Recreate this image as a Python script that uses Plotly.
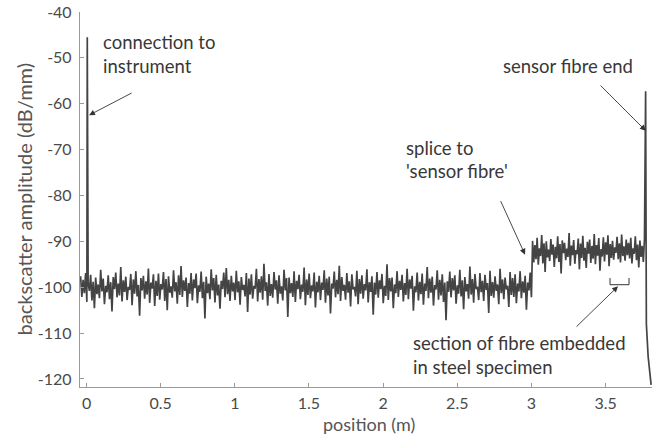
import numpy as np
import plotly.graph_objects as go

# ---------------- data ----------------
# position extent of the two fibre sections (m)
seg1_range = [-0.04, 3.0]     # lead-in fibre
seg2_range = [3.0, 3.77]      # 'sensor fibre'

# backscatter amplitude samples (dB/mm), lead-in fibre
seg1_vals = [
    -97.6, -102.1, -98.4, -101.3, -96.9, -103.2, -99.1, -100.8, -97.3, -102.9, -98.8, -104.6, -97.9, -101.5, -99.4, -102.4, -96.2, -100.9, -98.1, -103.7,
    -99.7, -101.1, -97.4, -102.6, -98.9, -105.3, -97.8, -100.4, -96.8, -102.2, -99.2, -101.8, -95.6, -103.1, -98.5, -101.0, -97.7, -102.8, -99.9, -100.6,
    -97.1, -103.9, -98.3, -101.4, -96.5, -102.0, -99.5, -106.2, -98.0, -100.7, -97.5, -102.5, -98.7, -101.6, -95.9, -103.4, -99.0, -100.3, -97.2, -104.1,
    -98.6, -101.9, -97.0, -102.7, -99.3, -100.5, -96.7, -103.0, -98.2, -105.0, -97.6, -101.2, -99.8, -102.3, -96.3, -100.9, -98.9, -103.6, -97.4, -101.7,
    -95.4, -102.1, -98.5, -100.8, -97.9, -104.3, -99.1, -101.4, -96.9, -102.9, -98.3, -100.2, -97.0, -103.5, -99.6, -101.0, -96.6, -102.4, -98.8, -106.8,
    -97.7, -101.3, -99.2, -102.6, -96.1, -100.7, -98.0, -103.3, -97.3, -101.8, -99.4, -104.7, -98.6, -100.4, -96.8, -102.2, -95.8, -101.5, -98.4, -103.0,
    -97.5, -100.9, -99.0, -102.8, -96.4, -101.1, -98.7, -103.8, -97.8, -100.6, -99.5, -102.0, -96.9, -105.4, -98.1, -101.6, -97.2, -102.5, -99.7, -100.3,
    -96.0, -103.1, -98.2, -101.2, -97.6, -102.7, -94.9, -100.8, -98.9, -104.0, -97.1, -101.9, -99.3, -102.3, -96.7, -100.5, -98.5, -103.6, -97.4, -101.4,
    -99.8, -102.9, -96.2, -100.7, -98.0, -106.5, -97.9, -101.3, -99.1, -102.1, -96.5, -103.2, -98.6, -100.4, -97.3, -102.6, -99.4, -101.0, -95.7, -103.9,
    -98.3, -101.7, -97.0, -102.4, -99.6, -100.9, -96.8, -104.4, -98.8, -101.1, -97.5, -102.8, -99.0, -100.6, -96.3, -103.4, -98.1, -101.8, -97.7, -105.7,
    -99.2, -100.3, -96.6, -102.2, -98.4, -101.5, -95.3, -103.0, -97.8, -100.8, -99.5, -102.7, -96.9, -101.2, -98.7, -104.2, -97.2, -100.5, -99.9, -102.0,
    -96.4, -103.7, -98.2, -101.4, -97.4, -102.5, -99.3, -100.7, -96.1, -103.3, -98.9, -101.0, -97.6, -106.0, -99.0, -101.6, -96.7, -102.3, -98.5, -100.4,
    -97.1, -103.5, -99.7, -101.9, -95.0, -102.8, -98.0, -100.9, -97.9, -104.6, -99.4, -101.3, -96.5, -102.1, -98.6, -100.6, -97.3, -103.1, -99.1, -101.7,
    -96.0, -102.6, -98.3, -100.3, -97.5, -105.1, -99.8, -101.1, -96.8, -102.9, -98.8, -101.5, -97.0, -103.8, -99.2, -100.8, -95.6, -102.4, -98.1, -101.2,
    -97.7, -104.0, -99.5, -100.5, -96.3, -102.7, -98.4, -101.8, -97.2, -103.2, -99.0, -107.2, -98.7, -101.0, -96.6, -102.2, -98.0, -100.7, -97.4, -103.6,
    -99.6, -101.4, -96.2, -102.0, -98.5, -104.8, -97.8, -100.9, -99.3, -102.5, -95.5, -101.6, -98.2, -103.4, -97.1, -100.4, -99.9, -102.8, -96.9, -101.1,
    -98.6, -103.0, -97.3, -100.6, -99.1, -105.6, -96.4, -101.9, -98.9, -102.3, -97.6, -100.8, -99.4, -103.7, -96.0, -101.3, -98.3, -102.6, -97.9, -100.5,
    -99.7, -104.3, -96.7, -101.7, -98.0, -102.1, -97.2, -103.5, -99.2, -100.9, -96.5, -102.4, -98.7, -101.2, -97.5, -104.9, -99.0, -100.7, -96.8, -102.2,
]

# backscatter amplitude samples (dB/mm), sensor fibre
seg2_vals = [
    -89.9, -94.6, -90.8, -93.9, -89.2, -95.1, -91.5, -93.2, -88.6, -94.8, -90.4, -96.7, -90.0, -93.5, -91.8, -94.3, -89.5, -92.9, -90.7, -95.6,
    -91.2, -93.7, -88.9, -94.5, -90.6, -97.0, -89.8, -92.6, -90.3, -94.1, -91.6, -93.4, -88.2, -95.3, -90.9, -93.0, -89.7, -94.9, -91.9, -92.8,
    -89.4, -96.1, -90.5, -93.6, -88.8, -94.2, -91.4, -95.8, -90.1, -92.7, -89.6, -94.7, -91.0, -93.8, -88.4, -95.0, -90.8, -93.1, -89.3, -96.4,
    -91.7, -93.3, -89.1, -94.4, -90.2, -92.9, -88.7, -95.4, -90.6, -93.6, -89.9, -94.0, -91.3, -92.5, -89.0, -93.9, -90.4, -94.6, -88.5, -93.2,
    -91.1, -94.2, -89.6, -93.0, -90.3, -93.7, -89.2, -94.8, -91.5, -92.7, -88.9, -94.1, -90.7, -95.7, -89.8, -93.4, -91.0, -94.5, -89.4, -93.8,
]

# reflection peaks: connection to instrument, sensor fibre end
peak_pos = [0.005, 3.77]
peak_vals = [-45.5, -57.3]

# signal fall-off after the fibre end
tail_pos = [3.775, 3.787, 3.807]
tail_vals = [-108.0, -115.1, -121.3]

x_tickvals = [0, 0.5, 1, 1.5, 2, 2.5, 3, 3.5]
x_ticktext = ["0", "0.5", "1", "1.5", "2", "2.5", "3", "3.5"]
y_tickvals = [-40, -50, -60, -70, -80, -90, -100, -110, -120]
y_ticktext = ["-40", "-50", "-60", "-70", "-80", "-90", "-100", "-110", "-120"]

# ---------------- build trace ----------------
x1 = np.linspace(seg1_range[0], seg1_range[1], len(seg1_vals))
x2 = np.linspace(seg2_range[0], seg2_range[1], len(seg2_vals) + 1)[1:-1]
v2 = np.array(seg2_vals[: len(x2)])
xs = np.concatenate([x1, x2, peak_pos, tail_pos])
ys = np.concatenate([seg1_vals, v2, peak_vals, tail_vals])
order = np.argsort(xs, kind="stable")
xs, ys = xs[order], ys[order]

TRACE = "#444444"
AXIS = "#9a9a9a"
TEXT = "#383838"
FONT = "Lato"

fig = go.Figure()
fig.add_trace(go.Scatter(x=xs, y=ys, mode="lines",
                         line=dict(color=TRACE, width=1.7, simplify=False),
                         hoverinfo="skip", showlegend=False))

fig.update_layout(
    width=654, height=436,
    margin=dict(l=80, r=2, t=12, b=49),
    paper_bgcolor="white", plot_bgcolor="white",
    font=dict(family=FONT, size=16, color="#4a4a4a"),
    showlegend=False,
)
fig.update_xaxes(range=[-0.044, 3.813], showgrid=False, zeroline=False,
                 showline=True, linecolor=AXIS, linewidth=1.3,
                 ticks="inside", ticklen=4, tickcolor=AXIS, tickwidth=1,
                 tickvals=x_tickvals, ticktext=x_ticktext,
                 ticklabelstandoff=2)
fig.update_yaxes(range=[-121.75, -40], showgrid=False, zeroline=False,
                 showline=True, linecolor=AXIS, linewidth=1.3,
                 ticks="inside", ticklen=4, tickcolor=AXIS, tickwidth=1,
                 tickvals=y_tickvals, ticktext=y_ticktext,
                 ticklabelstandoff=4)

# axis titles
fig.add_annotation(text="backscatter amplitude (dB/mm)", xref="paper", yref="paper",
                   x=-0.098, y=0.5, textangle=-90, showarrow=False,
                   xanchor="center", yanchor="middle",
                   font=dict(family=FONT, size=20, color="#555555"))
fig.add_annotation(text="position (m)", xref="paper", yref="paper",
                   x=0.505, y=-0.0987, showarrow=False,
                   xanchor="center", yanchor="middle",
                   font=dict(family=FONT, size=18, color="#555555"))

# labels
labels = [
    ("connection to", 0.098, -46.6),
    ("instrument", 0.098, -51.7),
    ("sensor fibre end", 2.795, -51.8),
    ("splice to", 2.141, -69.7),
    ("'sensor fibre'", 2.141, -74.75),
    ("section of fibre embedded", 2.189, -112.1),
    ("in steel specimen", 2.189, -117.4),
]
for txt, lx, ly in labels:
    fig.add_annotation(text=txt, x=lx, y=ly, xref="x", yref="y", showarrow=False,
                       xanchor="left", yanchor="middle",
                       font=dict(family=FONT, size=18.5, color=TEXT))

# arrows (tail -> head)
arrows = [
    ((0.314, -57.5), (0.017, -62.5)),
    ((3.456, -55.7), (3.771, -65.9)),
    ((2.788, -80.9), (2.957, -92.9)),
    ((3.294, -108.9), (3.584, -99.8)),
]
for (tx, ty), (hx, hy) in arrows:
    fig.add_annotation(x=hx, y=hy, ax=tx, ay=ty, xref="x", yref="y",
                       axref="x", ayref="y", text="", showarrow=True,
                       arrowhead=2, arrowsize=1.3, arrowwidth=0.9,
                       arrowcolor="#333333")

# bracket marking embedded section
fig.add_shape(type="path", xref="x", yref="y",
              path="M 3.53,-98.0 L 3.53,-99.45 L 3.658,-99.45 L 3.658,-98.0",
              line=dict(color="#333333", width=1))

fig.write_html("out.html")
